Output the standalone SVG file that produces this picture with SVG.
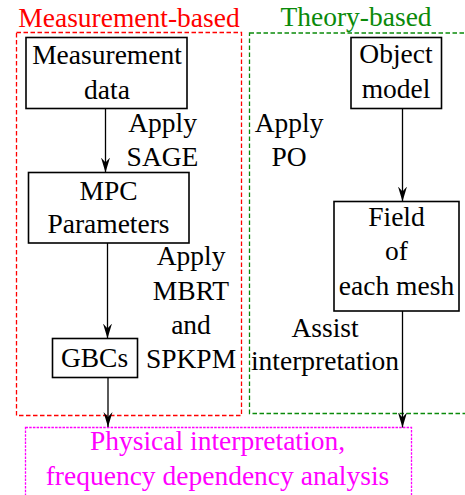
<svg xmlns="http://www.w3.org/2000/svg" width="465" height="495" viewBox="0 0 465 495">
<style>
text{font-family:"Liberation Serif","Times New Roman",serif;font-size:27.5px;text-anchor:middle;fill:#000}
.node{fill:#fff;stroke:#000;stroke-width:1.6}
.conn{stroke:#000;stroke-width:1.3;fill:none;marker-end:url(#arr)}
</style>
<defs>
<marker id="arr" markerUnits="userSpaceOnUse" markerWidth="16" markerHeight="12" viewBox="-15 -6 16 12" refX="0" refY="0" orient="auto">
<path d="M0,0 L-15,-4.5 L-10,0 L-15,4.5 Z" fill="#000"/>
</marker>
</defs>
<rect width="465" height="495" fill="#fff"/>
<g id="group-measurement">
<rect x="16.5" y="32.5" width="225" height="383" fill="none" stroke="#ff0000" stroke-width="1.3" stroke-dasharray="4.5,2.5"/>
<text x="129" y="27" style="fill:#ff0000">Measurement-based</text>
</g>
<g id="group-theory">
<rect x="249.5" y="33" width="230" height="380.5" fill="none" stroke="#0a8a0a" stroke-width="1.3" stroke-dasharray="4.5,2.5"/>
<text x="356" y="26" style="fill:#0a8a0a">Theory-based</text>
</g>
<g id="result">
<rect x="25.5" y="427.5" width="386" height="70" fill="none" stroke="#ff00ff" stroke-width="1.3" stroke-dasharray="2.5,1.2"/>
<text x="217.5" y="450" style="fill:#ff00ff">Physical interpretation,</text>
<text x="217.5" y="485" style="fill:#ff00ff">frequency dependency analysis</text>
</g>
<g id="connectors">
<line class="conn" x1="105.5" y1="108.5" x2="105.5" y2="172.5"/>
<line class="conn" x1="107.5" y1="243" x2="107.5" y2="338.5"/>
<line class="conn" x1="108" y1="377.5" x2="108" y2="427"/>
<line class="conn" x1="402.5" y1="108.5" x2="402.5" y2="201.5"/>
<line class="conn" x1="402.5" y1="311" x2="402.5" y2="427.5"/>
</g>
<g id="meas-data">
<rect class="node" x="26" y="37.5" width="161" height="71"/>
<text x="107" y="64">Measurement</text>
<text x="107" y="99">data</text>
</g>
<g id="label-sage">
<text x="162.5" y="132">Apply</text>
<text x="162.5" y="166">SAGE</text>
</g>
<g id="mpc">
<rect class="node" x="28.5" y="172.5" width="160.5" height="70.5"/>
<text x="108.5" y="200">MPC</text>
<text x="108.5" y="233">Parameters</text>
</g>
<g id="label-mbrt">
<text x="191" y="265">Apply</text>
<text x="191" y="299.5">MBRT</text>
<text x="191" y="333.5">and</text>
<text x="191" y="368">SPKPM</text>
</g>
<g id="gbcs">
<rect class="node" x="52.5" y="338.5" width="85" height="39"/>
<text x="94.5" y="367">GBCs</text>
</g>
<g id="object-model">
<rect class="node" x="351" y="37.5" width="90.5" height="71"/>
<text x="396" y="63">Object</text>
<text x="396" y="98">model</text>
</g>
<g id="label-po">
<text x="289" y="132">Apply</text>
<text x="289" y="166">PO</text>
</g>
<g id="field">
<rect class="node" x="334" y="201.5" width="125" height="109.5"/>
<text x="396.5" y="226">Field</text>
<text x="396.5" y="260">of</text>
<text x="396.5" y="295">each mesh</text>
</g>
<g id="label-assist">
<text x="325" y="337">Assist</text>
<text x="325" y="370">interpretation</text>
</g>
</svg>
